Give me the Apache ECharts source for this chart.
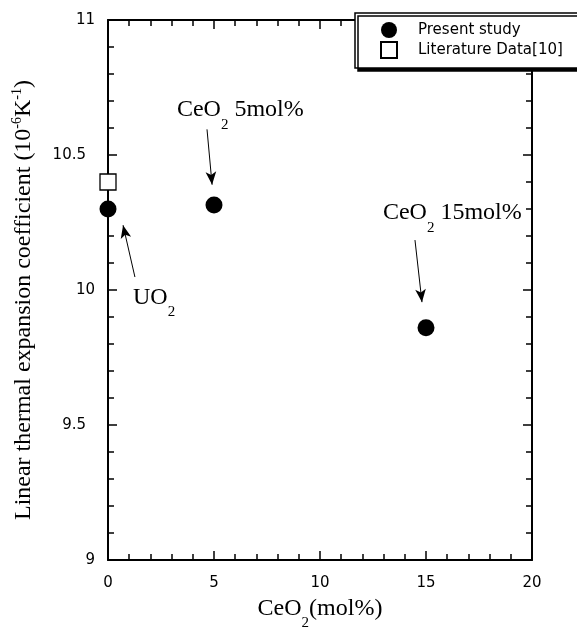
<!DOCTYPE html>
<html>
<head>
<meta charset="utf-8">
<script src="https://cdn.jsdelivr.net/npm/echarts@6/dist/echarts.min.js"></script>
<style>html,body{margin:0;padding:0;background:#fff}#c{width:577px;height:627px}</style>
</head>
<body>
<div id="c"></div>
<script>
// Data
var presentStudy = [[0, 10.30], [5, 10.315], [15, 9.86]];
var literatureData = [[0, 10.40]];
var xTicks = [0, 5, 10, 15, 20];
var yTicks = [9, 9.5, 10, 10.5, 11];
// annotation arrows: [from, to] in data coordinates
var arrows = [
  [[4.67, 10.595], [4.91, 10.39]],
  [[1.27, 10.048], [0.71, 10.24]],
  [[14.48, 10.185], [14.81, 9.955]]
];
// annotation labels: [x, y, main, sub, rest]
var notes = [
  [3.25, 10.667, 'CeO', '2', ' 5mol%'],
  [1.18, 9.972, 'UO', '2', ''],
  [12.97, 10.285, 'CeO', '2', ' 15mol%']
];

var serif = 'Liberation Serif';
var sans = 'DejaVu Sans';
var richText = {
  m: {fontFamily: serif, fontSize: 24, color: '#000'},
  s: {fontFamily: serif, fontSize: 15, color: '#000', padding: [30, 0, 0, 0]},
  p: {fontFamily: serif, fontSize: 14, color: '#000', padding: [0, 0, 14, 0]}
};

var chart = echarts.init(document.getElementById('c'), null, {renderer: 'canvas'});
var axisCommon = {
  axisLine: {show: true, onZero: false, lineStyle: {color: '#000', width: 2}},
  axisTick: {show: true, inside: true, length: 9, lineStyle: {color: '#000', width: 1.5}},
  minorTick: {show: true, splitNumber: 5, length: 6, lineStyle: {color: '#000', width: 1.5}},
  splitLine: {show: false}
};
function merge(a, b) { var o = {}; for (var k in a) o[k] = a[k]; for (var k2 in b) o[k2] = b[k2]; return o; }

chart.setOption({
  animation: false,
  backgroundColor: '#fff',
  grid: {left: 108, right: 45, top: 20, bottom: 67, containLabel: false, outerBoundsMode: 'none'},
  legend: {
    data: ['Present study', 'Literature Data[10]'],
    orient: 'vertical',
    left: 355, top: 13,
    padding: [9, 50, 9, 25],
    itemGap: 3,
    itemWidth: 16, itemHeight: 16,
    backgroundColor: '#fff',
    borderColor: '#000', borderWidth: 1.5,
    shadowColor: '#000', shadowOffsetX: 3, shadowOffsetY: 3, shadowBlur: 0,
    textStyle: {fontFamily: sans, fontSize: 15, color: '#000', padding: [0, 0, 0, 16]}
  },
  xAxis: [
    merge(axisCommon, {
      type: 'value', position: 'bottom', min: xTicks[0], max: xTicks[xTicks.length - 1], interval: 5,
      axisLabel: {fontFamily: sans, fontSize: 15, color: '#000', margin: 16},
      name: '{m|CeO}{s|2}{m|(mol%)}', nameLocation: 'middle', nameGap: 26,
      nameTextStyle: {rich: richText}
    }),
    merge(axisCommon, {
      type: 'value', position: 'top', min: xTicks[0], max: xTicks[xTicks.length - 1], interval: 5,
      axisLabel: {show: false}
    })
  ],
  yAxis: [
    merge(axisCommon, {
      type: 'value', position: 'left', min: yTicks[0], max: yTicks[yTicks.length - 1], interval: 0.5,
      axisLabel: {
        fontFamily: sans, fontSize: 15, color: '#000', margin: 13,
        formatter: function (v) { return (Math.abs(v % 1) < 1e-9) ? '{a|' + v + '}' : '{b|' + v + '}'; },
        rich: {a: {fontFamily: sans, fontSize: 15, color: '#000'}, b: {fontFamily: sans, fontSize: 15, color: '#000', padding: [0, 9, 0, 0]}}
      },
      name: '{m|Linear thermal expansion coefficient (10}{p|-6}{m|K}{p|-1}{m|)}',
      nameLocation: 'middle', nameRotate: 90, nameGap: 70,
      nameTextStyle: {rich: richText, padding: [0, 20, 0, 0]}
    }),
    merge(axisCommon, {
      type: 'value', position: 'right', min: yTicks[0], max: yTicks[yTicks.length - 1], interval: 0.5,
      axisLabel: {show: false}
    })
  ],
  series: [
    {
      name: 'Present study', type: 'scatter', xAxisIndex: 0, yAxisIndex: 0,
      data: presentStudy, symbol: 'circle', symbolSize: 17, clip: false, z: 10,
      itemStyle: {color: '#000', opacity: 1},
      markLine: {
        silent: true, symbol: ['none', 'arrow'], symbolSize: [8, 13],
        lineStyle: {color: '#000', width: 1, type: 'solid', opacity: 1},
        itemStyle: {color: '#000'},
        label: {show: false},
        data: arrows.map(function (a) { return [{coord: a[0]}, {coord: a[1]}]; })
      },
      markPoint: {
        silent: true, symbol: 'circle', symbolSize: 1,
        itemStyle: {color: 'rgba(0,0,0,0)'},
        label: {show: true, position: 'inside', align: 'left', verticalAlign: 'middle', rich: richText},
        data: notes.map(function (n) {
          return {coord: [n[0], n[1]], label: {formatter: '{m|' + n[2] + '}{s|' + n[3] + '}' + (n[4] ? '{m|' + n[4] + '}' : '')}};
        })
      }
    },
    {
      name: 'Literature Data[10]', type: 'scatter', xAxisIndex: 0, yAxisIndex: 0,
      data: literatureData, symbol: 'rect', symbolSize: 16, clip: false, z: 11,
      itemStyle: {color: '#fff', borderColor: '#000', borderWidth: 1.3, opacity: 1}
    }
  ]
});
</script>
</body>
</html>
